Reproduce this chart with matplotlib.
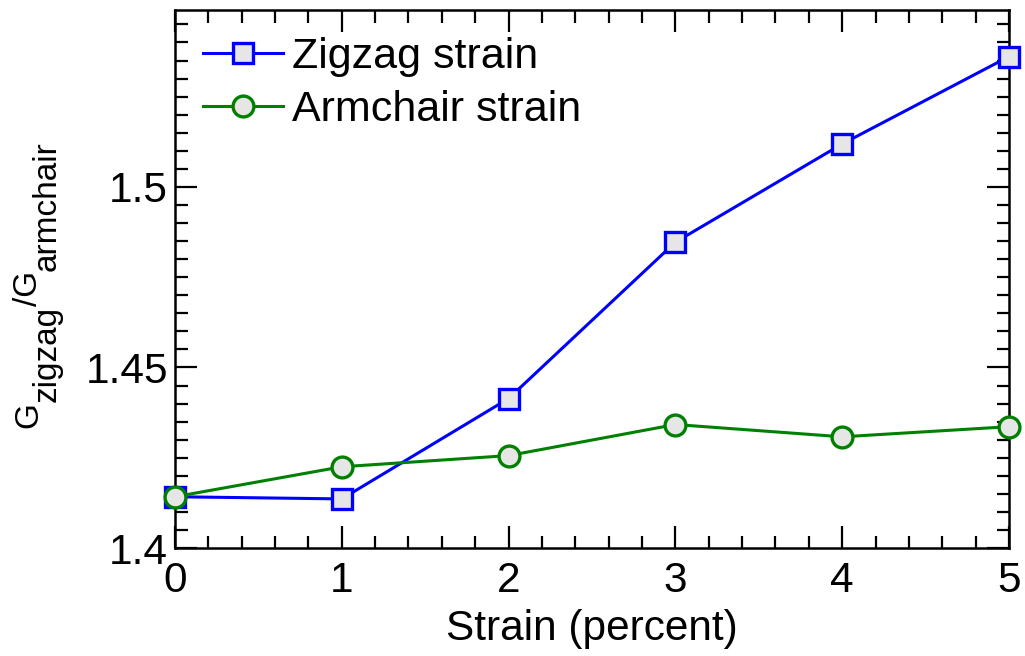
import numpy as np
import matplotlib.pyplot as plt
from matplotlib.ticker import MultipleLocator

plt.rcParams['font.family'] = ['Liberation Sans', 'DejaVu Sans']

# Conductance ratio vs applied strain
strain = np.array([0, 1, 2, 3, 4, 5])
zigzag = np.array([1.4142, 1.4136, 1.4414, 1.4847, 1.5119, 1.5361])
armchair = np.array([1.4142, 1.4225, 1.4256, 1.4342, 1.4308, 1.4336])

# y label pieces: (text, lowered as subscript)
ylabel_parts = [('G', False), ('zigzag', True), ('/G', False), ('armchair', True)]

fig = plt.figure(figsize=(10.25, 6.56), dpi=100)
ax = fig.add_axes([0.1707, 0.1646, 0.8137, 0.8202])

ax.plot(strain, zigzag, color='#0000ff', lw=2.2, marker='s', ms=14,
        mfc='#e6e6e6', mec='#0000ff', mew=2.4, label='Zigzag strain', clip_on=False, zorder=3)
ax.plot(strain, armchair, color='#008000', lw=2.2, marker='o', ms=15,
        mfc='#e6e6e6', mec='#008000', mew=2.4, label='Armchair strain', clip_on=False, zorder=4)

ax.set_xlim(0, 5)
ax.set_ylim(1.4, 1.549)
ax.xaxis.set_major_locator(MultipleLocator(1))
ax.xaxis.set_minor_locator(MultipleLocator(0.2))
ax.yaxis.set_minor_locator(MultipleLocator(0.005))
ax.set_yticks([1.4, 1.45, 1.5])
ax.set_yticklabels(['1.4', '1.45', '1.5'])

ax.tick_params(which='both', direction='in', top=True, right=True, width=1.6, labelsize=30.5)
ax.tick_params(which='major', length=16, pad=5)
ax.tick_params(axis='x', which='major', pad=9)
ax.tick_params(which='minor', length=9)
for s in ax.spines.values():
    s.set_linewidth(1.8)

ax.set_xlabel('Strain (percent)', fontsize=30.5, labelpad=6)

# rotated y label built piece by piece so subscripts keep full size
prev = None
for txt, sub in ylabel_parts:
    x = 32 if sub else 13
    if prev is None:
        prev = ax.annotate(txt, xy=(x, 228), xycoords='figure pixels', rotation=90,
                           ha='left', va='bottom', fontsize=24, annotation_clip=False)
    else:
        prev = ax.annotate(txt, xy=(x, 1), xycoords=('figure pixels', prev), rotation=90,
                           ha='left', va='bottom', fontsize=24, annotation_clip=False)

ax.legend(loc='upper left', bbox_to_anchor=(0.0336, 0.949), frameon=False, fontsize=31,
          handlelength=1.86, handletextpad=0.2, labelspacing=0.30, borderaxespad=0, borderpad=0)

fig.savefig('out.png', dpi=100)
